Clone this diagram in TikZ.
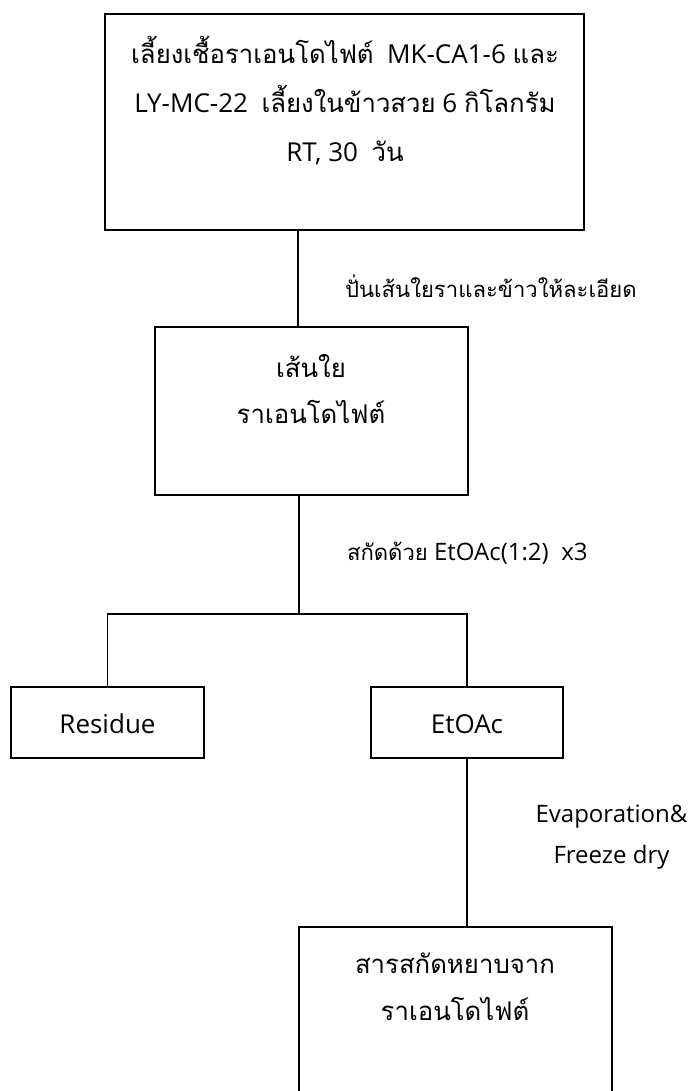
\documentclass[tikz,border=0pt]{standalone}
\usepackage{fontspec}
\setmainfont{Open Sans}
\newfontfamily\thai[Script=Thai,Scale=0.92]{Loma}
\newfontfamily\thaibox[Script=Thai,Scale=0.99]{Loma}

\begin{document}
\begin{tikzpicture}[x=1pt,y=-1pt,line width=1.4pt,
  box/.style={draw,line width=1.6pt,inner sep=0pt},
  txt/.style={align=center,font=\fontsize{26}{49}\selectfont},
  lbl/.style={align=center,font=\fontsize{24}{41}\selectfont}]
% Page size
\useasboundingbox (0,0) rectangle (689,1091);
\clip (0,0) rectangle (689,1091);
% Draw the boxes
\node[box,minimum width=479,minimum height=216] (culture) at (344.5,122) {};
\node[box,minimum width=313,minimum height=168] (fibre) at (311.5,411) {};
\node[box,minimum width=193,minimum height=71] (residue) at (107.5,722.5) {};
\node[box,minimum width=192,minimum height=71] (etoac) at (467,722.5) {};
\node[box,minimum width=313,minimum height=193] (crude) at (455.5,1023.5) {};
% Texts in the boxes
\node[txt] (culturetext) at (345,101) {{\thaibox เลี้ยงเชื้อราเอนโดไฟต์}\ \ MK-CA1-6 {\thaibox และ}\\
  LY-MC-22\ \ {\thaibox เลี้ยงในข้าวสวย} 6 {\thaibox กิโลกรัม}\\
  RT, 30\ \ {\thaibox วัน}};
\node[txt,font=\fontsize{26}{46}\selectfont] (fibretext) at (311,389) {{\thaibox เส้นใย}\\{\thaibox ราเอนโดไฟต์}};
\node[txt] (residuetext) at (107.5,724) {Residue};
\node[txt] (etoactext) at (467,724) {EtOAc};
\node[txt,font=\fontsize{26}{47}\selectfont] (crudetext) at (455,987) {{\thaibox สารสกัดหยาบจาก}\\{\thaibox ราเอนโดไฟต์}};
% Label the steps
\node[lbl,anchor=west] (grind) at (341,286) {{\thai ปั่นเส้นใยราและข้าวให้ละเอียด}};
\node[lbl,anchor=west] (extract) at (343,553) {{\thai สกัดด้วย} EtOAc(1:2)\ \ x3};
\node[lbl] (dry) at (611.5,837.5) {Evaporation\&\\Freeze dry};
% Connect the boxes
\coordinate (trunk) at (298,0);
\coordinate (split) at (299,614);
\draw (culture.south -| trunk) -- (fibre.north -| trunk);
\draw (fibre.south -| split) -- (split);
\draw (residue.north) |- (split) -| (etoac.north);
\draw (etoac.south) -- (etoac.south |- crude.north);
\end{tikzpicture}
\end{document}
